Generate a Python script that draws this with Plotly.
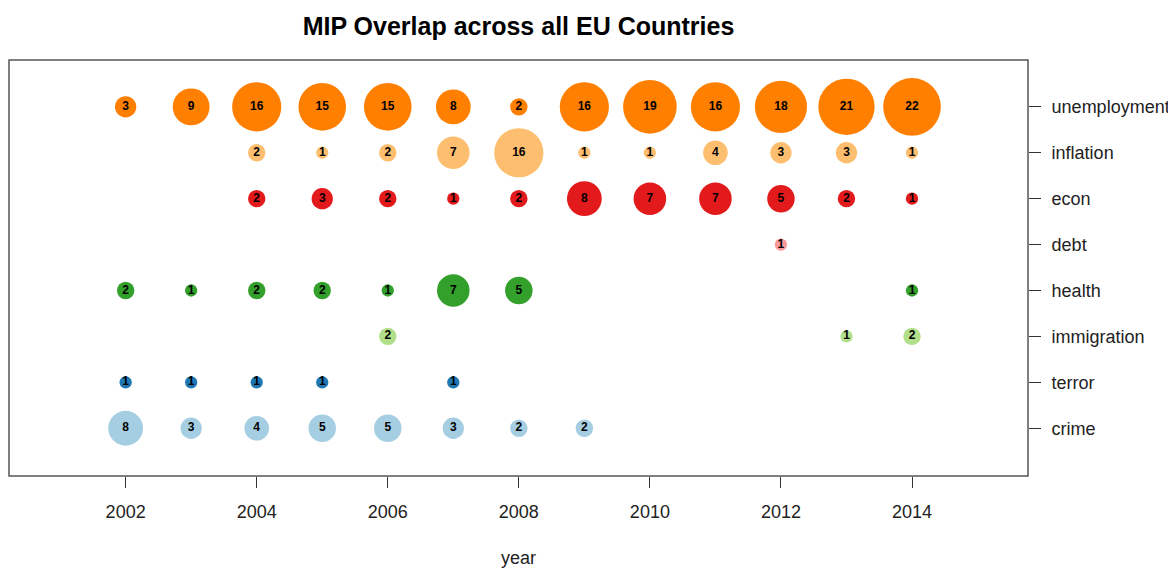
import plotly.graph_objects as go
import math

categories = ["crime", "terror", "immigration", "health", "debt", "econ", "inflation", "unemployment"]
colors = ["#A6CEE3", "#1F78B4", "#B2DF8A", "#33A02C", "#FB9A99", "#E31A1C", "#FDBF6F", "#FF7F00"]

crime_years = [2002, 2003, 2004, 2005, 2006, 2007, 2008, 2009]
crime_vals = [8, 3, 4, 5, 5, 3, 2, 2]
terror_years = [2002, 2003, 2004, 2005, 2007]
terror_vals = [1, 1, 1, 1, 1]
immigration_years = [2006, 2013, 2014]
immigration_vals = [2, 1, 2]
health_years = [2002, 2003, 2004, 2005, 2006, 2007, 2008, 2014]
health_vals = [2, 1, 2, 2, 1, 7, 5, 1]
debt_years = [2012]
debt_vals = [1]
econ_years = [2004, 2005, 2006, 2007, 2008, 2009, 2010, 2011, 2012, 2013, 2014]
econ_vals = [2, 3, 2, 1, 2, 8, 7, 7, 5, 2, 1]
inflation_years = [2004, 2005, 2006, 2007, 2008, 2009, 2010, 2011, 2012, 2013, 2014]
inflation_vals = [2, 1, 2, 7, 16, 1, 1, 4, 3, 3, 1]
unemployment_years = [2002, 2003, 2004, 2005, 2006, 2007, 2008, 2009, 2010, 2011, 2012, 2013, 2014]
unemployment_vals = [3, 9, 16, 15, 15, 8, 2, 16, 19, 16, 18, 21, 22]

x_ticks = [2002, 2004, 2006, 2008, 2010, 2012, 2014]

series = [
    (crime_years, crime_vals),
    (terror_years, terror_vals),
    (immigration_years, immigration_vals),
    (health_years, health_vals),
    (debt_years, debt_vals),
    (econ_years, econ_vals),
    (inflation_years, inflation_vals),
    (unemployment_years, unemployment_vals),
]

FONT = "Liberation Sans, Arial, sans-serif"

fig = go.Figure()
for i, ((yrs, vals), cat, col) in enumerate(zip(series, categories, colors)):
    fig.add_trace(go.Scatter(
        x=yrs,
        y=[i + 1] * len(yrs),
        mode="markers+text",
        text=[str(v) for v in vals],
        textposition="middle center",
        textfont=dict(family=FONT, size=12, color="black", weight="bold"),
        marker=dict(size=[12.3 * math.sqrt(v) for v in vals], sizemode="diameter",
                    color=col, line=dict(width=0), opacity=1),
        name=cat,
        showlegend=False,
        hoverinfo="skip",
    ))

W, H = 1168, 561
fig.update_layout(
    width=W, height=H,
    margin=dict(l=1, r=148, t=52, b=93),
    paper_bgcolor="white",
    plot_bgcolor="white",
    font=dict(family=FONT, size=18, color="#222"),
    title=dict(text="<b>MIP Overlap across all EU Countries</b>",
               font=dict(family=FONT, size=25, color="black"),
               x=0.5, xref="paper", xanchor="center",
               y=1 - 18 / H, yref="container", yanchor="middle"),
    xaxis=dict(range=[2000.22, 2015.77], tickvals=x_ticks, ticktext=[str(t) for t in x_ticks],
               showgrid=False, zeroline=False, ticks="outside", ticklen=11, tickwidth=1,
               tickcolor="#333", showline=False, ticklabelstandoff=8,
               tickfont=dict(family=FONT, size=18, color="#222")),
    yaxis=dict(range=[-0.04, 9.02], tickvals=list(range(1, 9)), ticktext=categories,
               side="right", showgrid=False, zeroline=False, ticks="outside", ticklen=12,
               tickwidth=1, tickcolor="#333", showline=False, ticklabelstandoff=7,
               tickfont=dict(family=FONT, size=18, color="#222")),
    shapes=[dict(type="rect", xref="paper", yref="paper", x0=0, x1=1, y0=0, y1=1,
                 line=dict(color="#555", width=1.5), fillcolor="rgba(0,0,0,0)", layer="above")],
    annotations=[dict(text="year", xref="paper", yref="paper", x=0.5, y=-82 / 416,
                      xanchor="center", yanchor="middle", showarrow=False,
                      font=dict(family=FONT, size=18, color="#222"))],
)

fig.write_html("out.html")
